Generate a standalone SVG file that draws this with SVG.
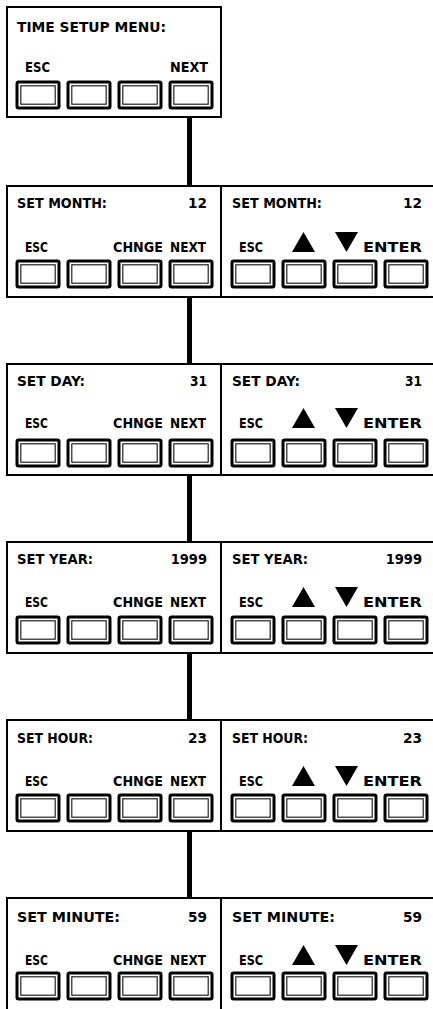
<svg xmlns="http://www.w3.org/2000/svg" xmlns:xlink="http://www.w3.org/1999/xlink" width="433" height="1009" viewBox="0 0 433 1009">
<style>
.box{fill:#fff;stroke:#000;stroke-width:2}
.t{font-family:"DejaVu Sans Condensed","DejaVu Sans","Liberation Sans",sans-serif;font-weight:bold;font-size:14.5px;fill:#000}
.e{text-anchor:end}
.bo{fill:#fff;stroke:#000;stroke-width:3}
.bi{fill:none;stroke:#222;stroke-width:1.2}
.conn{stroke:#000;stroke-width:5;fill:none}
</style>
<defs>
<g id="btn"><rect class="bo" x="0" y="0" width="42" height="26" rx="1.5"/><rect class="bi" x="3.8" y="3.8" width="34.4" height="18.4"/></g>
<g id="btns"><use xlink:href="#btn" x="0"/><use xlink:href="#btn" x="51"/><use xlink:href="#btn" x="102"/><use xlink:href="#btn" x="153"/></g>
<path id="up" d="M11.5,0 L23,20 L0,20 Z"/>
<path id="down" d="M0,0 L23,0 L11.5,20 Z"/>
</defs>
<g id="connectors">
<line class="conn" x1="189.5" y1="117" x2="189.5" y2="186"/>
<line class="conn" x1="189.5" y1="297" x2="189.5" y2="364"/>
<line class="conn" x1="189.5" y1="475" x2="189.5" y2="542"/>
<line class="conn" x1="189.5" y1="653" x2="189.5" y2="720"/>
<line class="conn" x1="189.5" y1="831" x2="189.5" y2="898"/>
</g>
<g id="time-setup-menu">
<rect class="box" x="7" y="7" width="214" height="110"/>
<text class="t" x="17" y="32" textLength="149" lengthAdjust="spacingAndGlyphs">TIME SETUP MENU:</text>
<text class="t" x="25" y="72" textLength="25" lengthAdjust="spacingAndGlyphs">ESC</text>
<text class="t" x="170" y="72" textLength="38" lengthAdjust="spacingAndGlyphs">NEXT</text>
<use xlink:href="#btns" x="17" y="82"/>
</g>
<g id="set-month">
<rect class="box" x="7" y="186" width="214" height="111"/>
<text class="t" x="17" y="208" textLength="90" lengthAdjust="spacingAndGlyphs">SET MONTH:</text>
<text class="t e" x="207" y="208" textLength="19" lengthAdjust="spacingAndGlyphs">12</text>
<text class="t" x="25" y="252" textLength="23" lengthAdjust="spacingAndGlyphs">ESC</text>
<text class="t" x="113" y="252" textLength="50" lengthAdjust="spacingAndGlyphs">CHNGE</text>
<text class="t" x="170" y="252" textLength="36" lengthAdjust="spacingAndGlyphs">NEXT</text>
<use xlink:href="#btns" x="17" y="261"/>
</g>
<g id="set-month-edit">
<rect class="box" x="221" y="186" width="220" height="111"/>
<text class="t" x="232" y="208" textLength="90" lengthAdjust="spacingAndGlyphs">SET MONTH:</text>
<text class="t e" x="422" y="208" textLength="19" lengthAdjust="spacingAndGlyphs">12</text>
<text class="t" x="239" y="252" textLength="24" lengthAdjust="spacingAndGlyphs">ESC</text>
<use xlink:href="#up" x="292" y="232"/>
<use xlink:href="#down" x="335" y="232"/>
<text class="t" x="363" y="252" textLength="59" lengthAdjust="spacingAndGlyphs">ENTER</text>
<use xlink:href="#btns" x="232" y="261"/>
</g>
<g id="set-day">
<rect class="box" x="7" y="364" width="214" height="111"/>
<text class="t" x="17" y="386" textLength="68" lengthAdjust="spacingAndGlyphs">SET DAY:</text>
<text class="t e" x="207" y="386" textLength="17" lengthAdjust="spacingAndGlyphs">31</text>
<text class="t" x="25" y="428" textLength="23" lengthAdjust="spacingAndGlyphs">ESC</text>
<text class="t" x="113" y="428" textLength="50" lengthAdjust="spacingAndGlyphs">CHNGE</text>
<text class="t" x="170" y="428" textLength="36" lengthAdjust="spacingAndGlyphs">NEXT</text>
<use xlink:href="#btns" x="17" y="440"/>
</g>
<g id="set-day-edit">
<rect class="box" x="221" y="364" width="220" height="111"/>
<text class="t" x="232" y="386" textLength="68" lengthAdjust="spacingAndGlyphs">SET DAY:</text>
<text class="t e" x="422" y="386" textLength="17" lengthAdjust="spacingAndGlyphs">31</text>
<text class="t" x="239" y="428" textLength="24" lengthAdjust="spacingAndGlyphs">ESC</text>
<use xlink:href="#up" x="292" y="408"/>
<use xlink:href="#down" x="335" y="408"/>
<text class="t" x="363" y="428" textLength="59" lengthAdjust="spacingAndGlyphs">ENTER</text>
<use xlink:href="#btns" x="232" y="440"/>
</g>
<g id="set-year">
<rect class="box" x="7" y="542" width="214" height="111"/>
<text class="t" x="17" y="564" textLength="76" lengthAdjust="spacingAndGlyphs">SET YEAR:</text>
<text class="t e" x="207" y="564">1999</text>
<text class="t" x="25" y="607" textLength="23" lengthAdjust="spacingAndGlyphs">ESC</text>
<text class="t" x="113" y="607" textLength="50" lengthAdjust="spacingAndGlyphs">CHNGE</text>
<text class="t" x="170" y="607" textLength="36" lengthAdjust="spacingAndGlyphs">NEXT</text>
<use xlink:href="#btns" x="17" y="617"/>
</g>
<g id="set-year-edit">
<rect class="box" x="221" y="542" width="220" height="111"/>
<text class="t" x="232" y="564" textLength="76" lengthAdjust="spacingAndGlyphs">SET YEAR:</text>
<text class="t e" x="422" y="564">1999</text>
<text class="t" x="239" y="607" textLength="24" lengthAdjust="spacingAndGlyphs">ESC</text>
<use xlink:href="#up" x="292" y="587"/>
<use xlink:href="#down" x="335" y="587"/>
<text class="t" x="363" y="607" textLength="59" lengthAdjust="spacingAndGlyphs">ENTER</text>
<use xlink:href="#btns" x="232" y="617"/>
</g>
<g id="set-hour">
<rect class="box" x="7" y="720" width="214" height="111"/>
<text class="t" x="17" y="743" textLength="76" lengthAdjust="spacingAndGlyphs">SET HOUR:</text>
<text class="t e" x="207" y="743" textLength="19" lengthAdjust="spacingAndGlyphs">23</text>
<text class="t" x="25" y="786" textLength="23" lengthAdjust="spacingAndGlyphs">ESC</text>
<text class="t" x="113" y="786" textLength="50" lengthAdjust="spacingAndGlyphs">CHNGE</text>
<text class="t" x="170" y="786" textLength="36" lengthAdjust="spacingAndGlyphs">NEXT</text>
<use xlink:href="#btns" x="17" y="795"/>
</g>
<g id="set-hour-edit">
<rect class="box" x="221" y="720" width="220" height="111"/>
<text class="t" x="232" y="743" textLength="76" lengthAdjust="spacingAndGlyphs">SET HOUR:</text>
<text class="t e" x="422" y="743" textLength="19" lengthAdjust="spacingAndGlyphs">23</text>
<text class="t" x="239" y="786" textLength="24" lengthAdjust="spacingAndGlyphs">ESC</text>
<use xlink:href="#up" x="292" y="766"/>
<use xlink:href="#down" x="335" y="766"/>
<text class="t" x="363" y="786" textLength="59" lengthAdjust="spacingAndGlyphs">ENTER</text>
<use xlink:href="#btns" x="232" y="795"/>
</g>
<g id="set-minute">
<rect class="box" x="7" y="898" width="214" height="120"/>
<text class="t" x="17" y="922" textLength="103" lengthAdjust="spacingAndGlyphs">SET MINUTE:</text>
<text class="t e" x="207" y="922" textLength="19" lengthAdjust="spacingAndGlyphs">59</text>
<text class="t" x="25" y="965" textLength="23" lengthAdjust="spacingAndGlyphs">ESC</text>
<text class="t" x="113" y="965" textLength="50" lengthAdjust="spacingAndGlyphs">CHNGE</text>
<text class="t" x="170" y="965" textLength="36" lengthAdjust="spacingAndGlyphs">NEXT</text>
<use xlink:href="#btns" x="17" y="973"/>
</g>
<g id="set-minute-edit">
<rect class="box" x="221" y="898" width="220" height="120"/>
<text class="t" x="232" y="922" textLength="103" lengthAdjust="spacingAndGlyphs">SET MINUTE:</text>
<text class="t e" x="422" y="922" textLength="19" lengthAdjust="spacingAndGlyphs">59</text>
<text class="t" x="239" y="965" textLength="24" lengthAdjust="spacingAndGlyphs">ESC</text>
<use xlink:href="#up" x="292" y="945"/>
<use xlink:href="#down" x="335" y="945"/>
<text class="t" x="363" y="965" textLength="59" lengthAdjust="spacingAndGlyphs">ENTER</text>
<use xlink:href="#btns" x="232" y="973"/>
</g>
</svg>
